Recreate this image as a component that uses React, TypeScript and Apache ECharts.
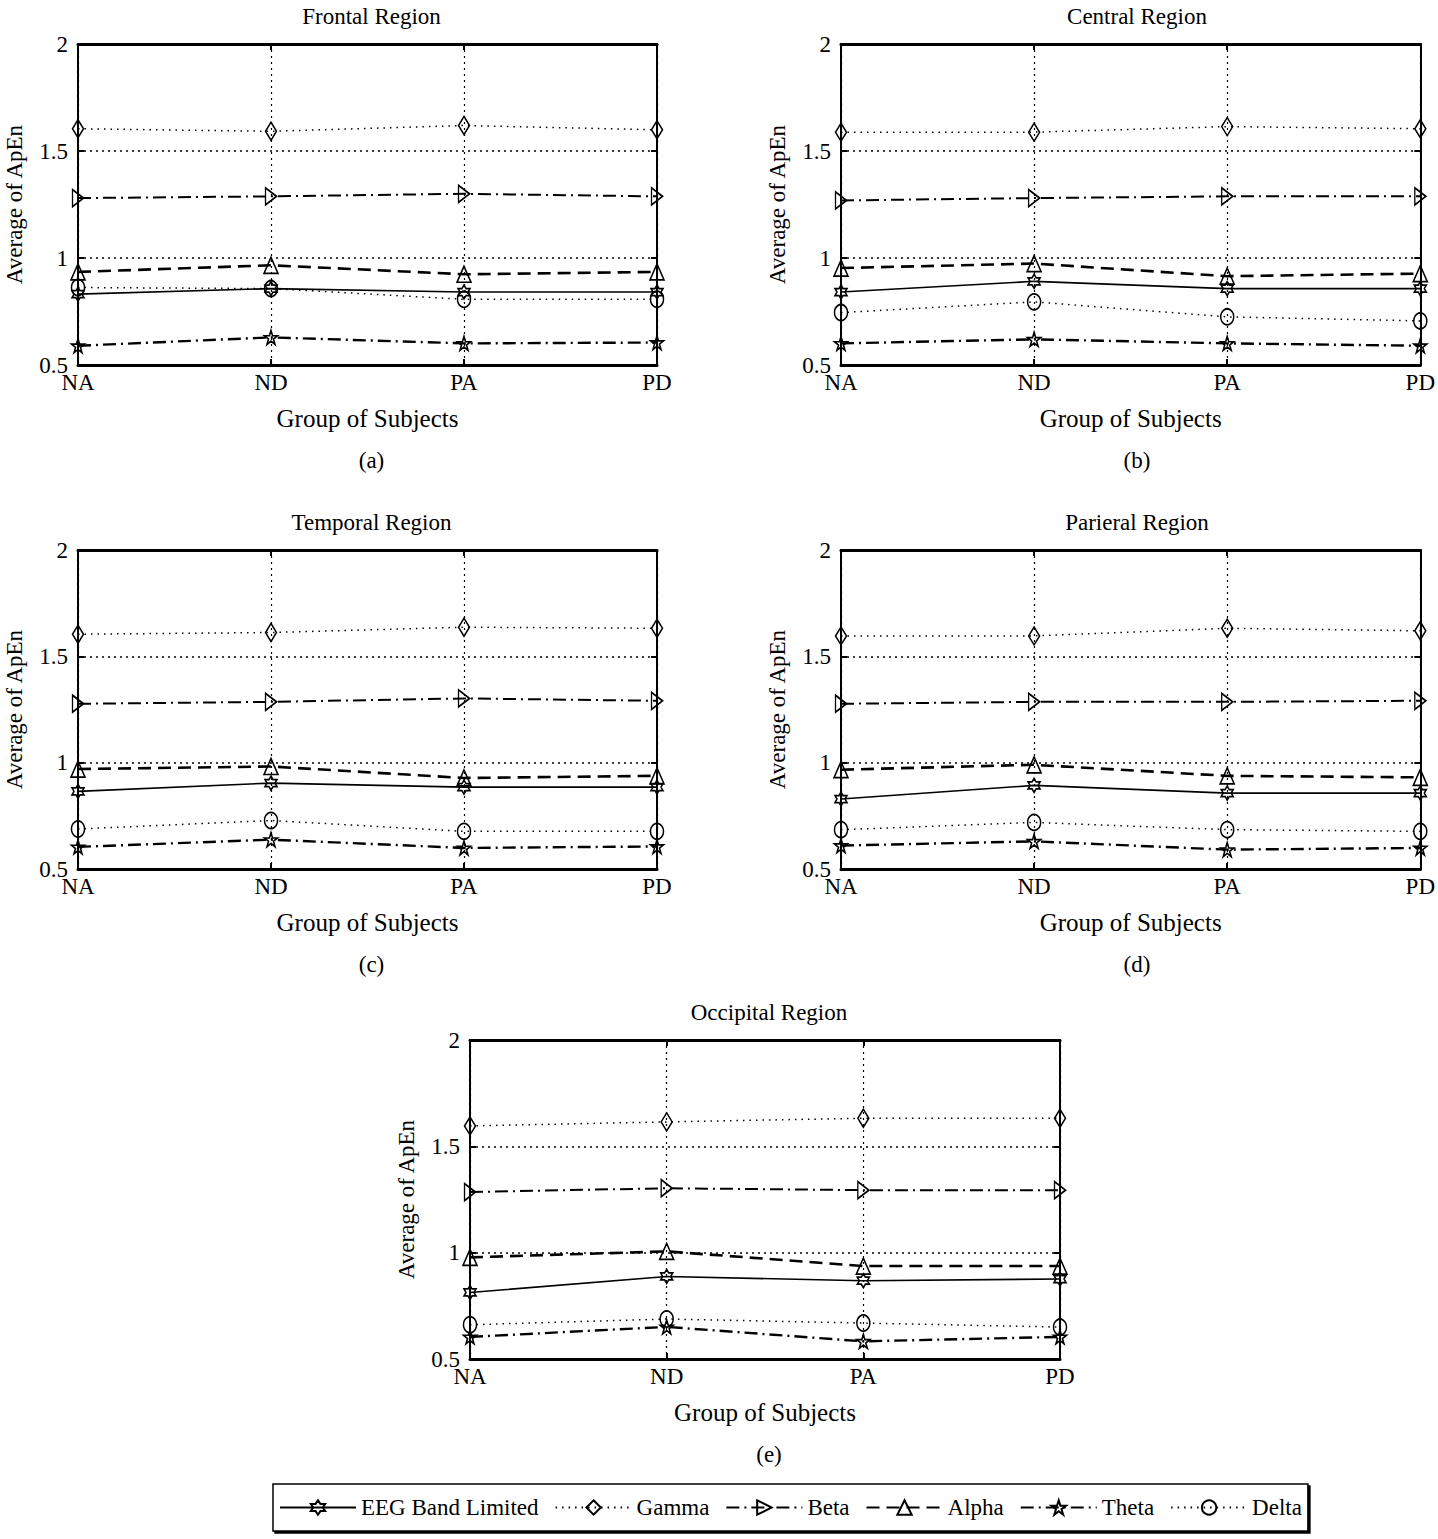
import React, { useEffect, useRef } from "react";
import * as echarts from "echarts";

const categories = ["NA", "ND", "PA", "PD"];
const yTicks = [0.5, 1, 1.5, 2];
const seriesNames = ["EEG Band Limited", "Gamma", "Beta", "Alpha", "Theta", "Delta"];
const regionTitles = ["Frontal Region", "Central Region", "Temporal Region", "Parieral Region", "Occipital Region"];
const captions = ["(a)", "(b)", "(c)", "(d)", "(e)"];

// Frontal
const frontalEEG = [0.831, 0.857, 0.841, 0.841];
const frontalGamma = [1.604, 1.592, 1.619, 1.599];
const frontalBeta = [1.28, 1.288, 1.3, 1.288];
const frontalAlpha = [0.935, 0.966, 0.924, 0.935];
const frontalTheta = [0.59, 0.629, 0.601, 0.605];
const frontalDelta = [0.862, 0.857, 0.807, 0.807];
// Central
const centralEEG = [0.841, 0.891, 0.857, 0.857];
const centralGamma = [1.588, 1.588, 1.614, 1.604];
const centralBeta = [1.269, 1.28, 1.288, 1.288];
const centralAlpha = [0.953, 0.974, 0.915, 0.927];
const centralTheta = [0.601, 0.62, 0.601, 0.59];
const centralDelta = [0.745, 0.795, 0.725, 0.706];
// Temporal
const temporalEEG = [0.865, 0.904, 0.885, 0.885];
const temporalGamma = [1.604, 1.612, 1.637, 1.632];
const temporalBeta = [1.277, 1.286, 1.302, 1.291];
const temporalAlpha = [0.97, 0.982, 0.928, 0.938];
const temporalTheta = [0.604, 0.638, 0.599, 0.606];
const temporalDelta = [0.688, 0.728, 0.677, 0.677];
// Parieral
const parieralEEG = [0.829, 0.893, 0.857, 0.857];
const parieralGamma = [1.596, 1.596, 1.632, 1.62];
const parieralBeta = [1.277, 1.286, 1.286, 1.291];
const parieralAlpha = [0.967, 0.99, 0.938, 0.931];
const parieralTheta = [0.61, 0.63, 0.591, 0.599];
const parieralDelta = [0.685, 0.719, 0.685, 0.677];
// Occipital
const occipitalEEG = [0.813, 0.888, 0.868, 0.876];
const occipitalGamma = [1.596, 1.615, 1.632, 1.632];
const occipitalBeta = [1.285, 1.303, 1.294, 1.294];
const occipitalAlpha = [0.978, 1.006, 0.937, 0.937];
const occipitalTheta = [0.604, 0.651, 0.583, 0.604];
const occipitalDelta = [0.661, 0.688, 0.669, 0.65];

const regionData = [
  [frontalEEG, frontalGamma, frontalBeta, frontalAlpha, frontalTheta, frontalDelta],
  [centralEEG, centralGamma, centralBeta, centralAlpha, centralTheta, centralDelta],
  [temporalEEG, temporalGamma, temporalBeta, temporalAlpha, temporalTheta, temporalDelta],
  [parieralEEG, parieralGamma, parieralBeta, parieralAlpha, parieralTheta, parieralDelta],
  [occipitalEEG, occipitalGamma, occipitalBeta, occipitalAlpha, occipitalTheta, occipitalDelta],
];

const FONT = "'Liberation Serif', 'Times New Roman', serif";

const hexagram =
  "path://M0,-10 L2.9,-5 L8.66,-5 L5.8,0 L8.66,5 L2.9,5 L0,10 L-2.9,5 L-8.66,5 L-5.8,0 L-8.66,-5 L-2.9,-5 Z";
const pentagram =
  "path://M0,-10 L2.245,-3.09 L9.51,-3.09 L3.633,1.18 L5.88,8.09 L0,3.82 L-5.88,8.09 L-3.633,1.18 L-9.51,-3.09 L-2.245,-3.09 Z";
const rightTri = "path://M0,0 L10,7 L0,14 Z";

const styles = [
  { symbol: hexagram, size: [12, 14], line: "solid", width: 1.6 },
  { symbol: "diamond", size: [11, 18], line: [1.5, 5], width: 1.5 },
  { symbol: rightTri, size: [11, 17], line: [13, 5, 2, 5], width: 2 },
  { symbol: "triangle", size: [14, 16], line: [13, 7], width: 2.6 },
  { symbol: pentagram, size: [13, 14], line: [13, 5, 2, 5], width: 2.4 },
  { symbol: "circle", size: [13, 16], line: [1.5, 5], width: 1.5 },
];

const layouts = [
  { left: 78, top: 44, width: 579, height: 321 },
  { left: 841, top: 44, width: 584, height: 321 },
  { left: 78, top: 550, width: 579, height: 319 },
  { left: 841, top: 550, width: 584, height: 319 },
  { left: 470, top: 1040, width: 590, height: 319 },
];

export default function App() {
  const ref = useRef<HTMLDivElement>(null);
  useEffect(() => {
    if (!ref.current) return;
    const chart = echarts.init(ref.current, undefined, { renderer: "svg" });
    const grid: any[] = [];
    const xAxis: any[] = [];
    const yAxis: any[] = [];
    const series: any[] = [];
    const title: any[] = [];
    const tickStyle = { show: true, inside: true, length: 6, lineStyle: { color: "#000", width: 2 } };
    layouts.forEach((g, i) => {
      grid.push({ ...g, show: false });
      const cx = g.left + g.width / 2 + 4;
      title.push({
        text: regionTitles[i],
        left: cx,
        top: g.top - 39,
        textAlign: "center",
        padding: 0,
        textStyle: { fontFamily: FONT, fontSize: 23, fontWeight: "normal", color: "#000" },
      });
      title.push({
        text: captions[i],
        left: cx,
        top: g.top + g.height + 84,
        textAlign: "center",
        padding: 0,
        textStyle: { fontFamily: FONT, fontSize: 23, fontWeight: "normal", color: "#000" },
      });
      xAxis.push({
        gridIndex: i,
        type: "category",
        data: categories,
        boundaryGap: false,
        position: "bottom",
        axisLine: { onZero: false, lineStyle: { color: "#000", width: 3 } },
        axisTick: tickStyle,
        axisLabel: { fontFamily: FONT, fontSize: 23, color: "#000", margin: 6 },
        splitLine: { show: true, lineStyle: { color: "#000", width: 1.2, type: [2, 4] } },
        name: "Group of Subjects",
        nameLocation: "middle",
        nameGap: 41,
        nameTextStyle: { fontFamily: FONT, fontSize: 25, color: "#000" },
      });
      xAxis.push({
        gridIndex: i,
        type: "category",
        data: categories,
        boundaryGap: false,
        position: "top",
        axisLine: { onZero: false, lineStyle: { color: "#000", width: 3 } },
        axisTick: tickStyle,
        axisLabel: { show: false },
        splitLine: { show: false },
      });
      yAxis.push({
        gridIndex: i,
        type: "value",
        min: yTicks[0],
        max: yTicks[yTicks.length - 1],
        interval: 0.5,
        position: "left",
        axisLine: { show: true, lineStyle: { color: "#000", width: 2 } },
        axisTick: tickStyle,
        axisLabel: { fontFamily: FONT, fontSize: 23, color: "#000", margin: 10 },
        splitLine: { show: true, lineStyle: { color: "#000", width: 1.5, type: [2, 4] } },
        name: "Average of ApEn",
        nameLocation: "middle",
        nameRotate: 90,
        nameGap: 52,
        nameTextStyle: { fontFamily: FONT, fontSize: 23, color: "#000", padding: [0, 0, 0, 0] },
      });
      yAxis.push({
        gridIndex: i,
        type: "value",
        min: yTicks[0],
        max: yTicks[yTicks.length - 1],
        interval: 0.5,
        position: "right",
        axisLine: { show: true, lineStyle: { color: "#000", width: 2 } },
        axisTick: tickStyle,
        axisLabel: { show: false },
        splitLine: { show: false },
      });
      regionData[i].forEach((vals, k) => {
        const st = styles[k];
        series.push({
          type: "line",
          name: seriesNames[k],
          xAxisIndex: 2 * i,
          yAxisIndex: 2 * i,
          data: vals,
          symbol: st.symbol,
          symbolSize: st.size,
          showAllSymbol: true,
          lineStyle: { color: "#000", width: st.width, type: st.line },
          itemStyle: { color: "rgba(255,255,255,0)", borderColor: "#000", borderWidth: 1.6 },
          emphasis: { disabled: true },
          z: 3,
        });
      });
    });
    chart.setOption({
      animation: false,
      backgroundColor: "#fff",
      title,
      grid,
      xAxis,
      yAxis,
      series,
      legend: {
        data: seriesNames,
        left: 273,
        top: 1484,
        orient: "horizontal",
        itemWidth: 76,
        itemHeight: 18,
        itemGap: 16,
        padding: [12, 6, 12, 6],
        borderColor: "#000",
        borderWidth: 1.5,
        backgroundColor: "#fff",
        shadowColor: "#000",
        shadowOffsetX: 2,
        shadowOffsetY: 2,
        shadowBlur: 0,
        selectedMode: false,
        textStyle: { fontFamily: FONT, fontSize: 23, color: "#000" },
      },
    });
    return () => chart.dispose();
  }, []);
  return (
    <div
      ref={ref}
      style={{ position: "absolute", left: 0, top: 0, width: 1438, height: 1539 }}
    />
  );
}
